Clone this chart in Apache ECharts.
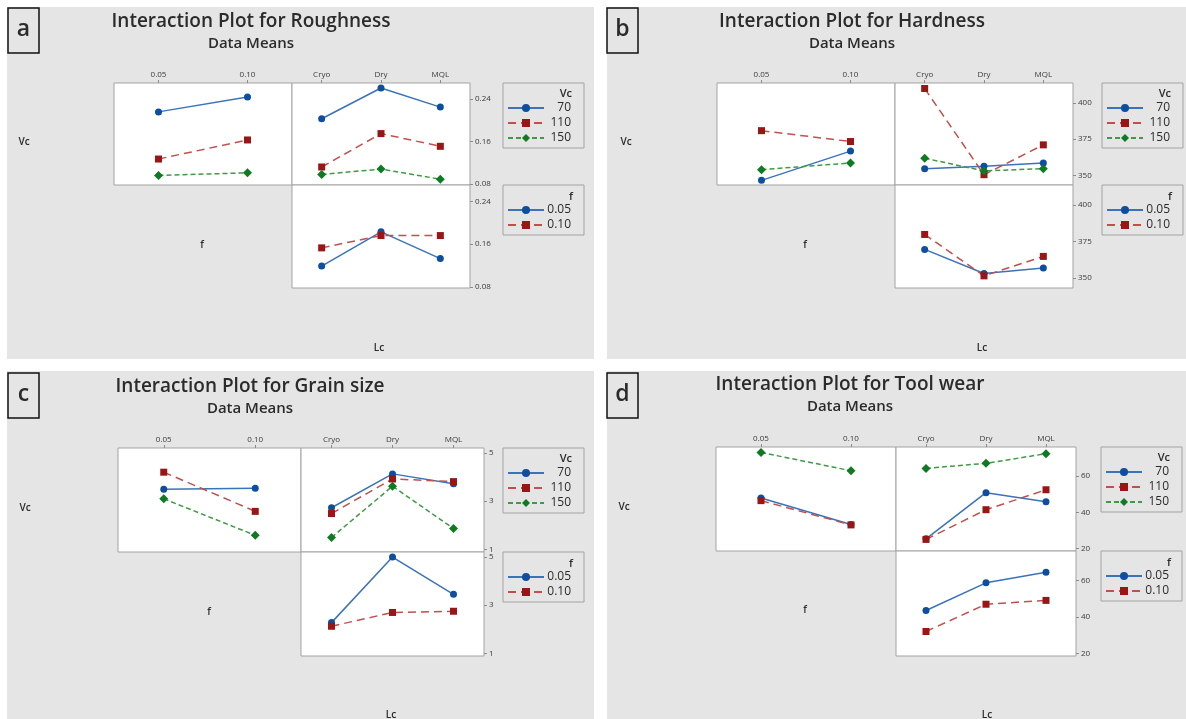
<!DOCTYPE html>
<html>
<head>
<meta charset="utf-8">
<style>
  html, body { margin: 0; padding: 0; background: #fff; }
  #chart { width: 1186px; height: 719px; }
</style>
</head>
<body>
<div id="chart"></div>
<script src="https://cdn.jsdelivr.net/npm/echarts@6.0.0/dist/echarts.min.js"></script>
<script>
// factor levels
var vcLevels = ['70', '110', '150'];
var fLevels = ['0.05', '0.10'];
var lcLevels = ['Cryo', 'Dry', 'MQL'];

// (a) Roughness - data means, one row per level
var roughVcF = [[0.216, 0.244], [0.127, 0.163], [0.096, 0.101]];
var roughVcLc = [[0.203, 0.261, 0.225], [0.112, 0.175, 0.151], [0.098, 0.108, 0.089]];
var roughFLc = [[0.119, 0.183, 0.133], [0.153, 0.176, 0.176]];
var roughTicks = [0.08, 0.16, 0.24];

// (b) Hardness
var hardVcF = [[346.5, 366.7], [380.8, 373.3], [353.9, 358.5]];
var hardVcLc = [[354.6, 356.2, 358.5], [409.9, 350.4, 371.0], [361.8, 353.0, 354.6]];
var hardFLc = [[369.7, 353.2, 356.9], [379.9, 351.6, 364.9]];
var hardTicks = [350, 375, 400];

// (c) Grain size
var grainVcF = [[3.49, 3.54], [4.20, 2.58], [3.10, 1.59]];
var grainVcLc = [[2.73, 4.13, 3.72], [2.49, 3.92, 3.81], [1.50, 3.62, 1.87]];
var grainFLc = [[2.28, 4.99, 3.45], [2.13, 2.70, 2.75]];
var grainTicks = [1, 3, 5];

// (d) Tool wear
var wearVcF = [[47.9, 33.2], [46.4, 33.0], [73.0, 62.9]];
var wearVcLc = [[25.3, 50.8, 45.8], [25.0, 41.4, 52.4], [64.2, 67.0, 72.3]];
var wearFLc = [[43.5, 58.6, 64.4], [32.0, 46.9, 49.0]];
var wearTicks = [20, 40, 60];

var FONT = '"Open Sans", "DejaVu Sans", sans-serif';
var GRID_LINE = '#a3a3a3';
var TEXT = '#2b2b2b';

// line + marker look per level (Minitab style)
var vcStyles = [
  { line: '#3a73b8', mark: '#0d4f9e', dash: 'solid', symbol: 'circle', size: 7 },
  { line: '#c0504d', mark: '#9a1515', dash: [8, 5], symbol: 'rect', size: 7 },
  { line: '#3f9a45', mark: '#0e7a22', dash: [5, 3], symbol: 'diamond', size: 9 }
];
var fStyles = [vcStyles[0], vcStyles[1]];

var panels = [
  { tag: 'a', title: 'Interaction Plot for Roughness', vcF: roughVcF, vcLc: roughVcLc, fLc: roughFLc,
    ticks: roughTicks, yMin: 0.078, yMax: 0.2705, dec: 2,
    bg: [7, 7, 587, 352], tagBox: [8, 8], titleAt: [251, 22, 44],
    box: [114, 83, 178, 102, 103], leg: [503, 83, 185],
    rows: [[24, 142], [202, 245], [379, 348]] },
  { tag: 'b', title: 'Interaction Plot for Hardness', vcF: hardVcF, vcLc: hardVcLc, fLc: hardFLc,
    ticks: hardTicks, yMin: 343.3, yMax: 413.7, dec: 0,
    bg: [607, 7, 579, 352], tagBox: [607, 8], titleAt: [852, 22, 44],
    box: [717, 83, 178, 102, 103], leg: [1102, 83, 185],
    rows: [[626, 142], [805, 245], [982, 348]] },
  { tag: 'c', title: 'Interaction Plot for Grain size', vcF: grainVcF, vcLc: grainVcLc, fLc: grainFLc,
    ticks: grainTicks, yMin: 0.9, yMax: 5.2, dec: 0,
    bg: [7, 371, 587, 348], tagBox: [8, 373], titleAt: [250, 387, 409],
    box: [118, 448, 183, 104, 104], leg: [503, 448, 552],
    rows: [[25, 508], [209, 612], [391, 715]] },
  { tag: 'd', title: 'Interaction Plot for Tool wear', vcF: wearVcF, vcLc: wearVcLc, fLc: wearFLc,
    ticks: wearTicks, yMin: 18.6, yMax: 76, dec: 0,
    bg: [607, 371, 579, 348], tagBox: [607, 373], titleAt: [850, 385, 407],
    box: [716, 447, 180, 104, 105], leg: [1101, 447, 551],
    rows: [[624, 507], [805, 610], [987, 715]] }
];

var option = {
  animation: false,
  textStyle: { fontFamily: FONT },
  grid: [], xAxis: [], yAxis: [], series: [], legend: [], graphic: []
};

function catAxis(levels, gi, labels) {
  return {
    type: 'category', gridIndex: gi, data: levels, position: 'top', boundaryGap: true,
    axisLine: { show: false },
    axisTick: { show: labels, alignWithLabel: true, length: 3, lineStyle: { color: '#8c8c8c' } },
    axisLabel: { show: labels, fontSize: 8, color: '#3a3a3a', margin: 4 },
    splitLine: { show: false }
  };
}

function valAxis(p, gi, labels) {
  return {
    type: 'value', gridIndex: gi, position: 'right', min: p.yMin, max: p.yMax,
    axisLine: { show: false },
    axisTick: { show: labels, customValues: p.ticks, length: 3, lineStyle: { color: '#8c8c8c' } },
    axisLabel: {
      show: labels, customValues: p.ticks, fontSize: 8, color: '#3a3a3a', margin: 5,
      formatter: function (v) { return Number(v).toFixed(p.dec); }
    },
    splitLine: { show: false }
  };
}

function lineSeries(name, st, data, gi) {
  return {
    type: 'line', name: name, xAxisIndex: gi, yAxisIndex: gi, data: data,
    symbol: st.symbol, symbolSize: st.size, showSymbol: true, silent: true,
    lineStyle: { color: st.line, width: 1.5, type: st.dash },
    itemStyle: { color: st.mark },
    emphasis: { disabled: true }
  };
}

function legendBox(names, left, top) {
  return {
    data: names, orient: 'vertical', left: left, top: top,
    padding: [19, 13, 4, 4], itemWidth: 36, itemHeight: 10, itemGap: 3,
    borderColor: GRID_LINE, borderWidth: 1, selectedMode: false,
    formatter: '{r|{name}}',
    textStyle: { color: TEXT, fontSize: 12, rich: { r: { width: 22, align: 'right', fontSize: 12, lineHeight: 15, color: TEXT } } }
  };
}

function text(str, x, y, font, align) {
  return {
    type: 'text', x: x, y: y, silent: true,
    style: { text: str, font: font, fill: TEXT, textAlign: align || 'center', textVerticalAlign: 'middle' }
  };
}

panels.forEach(function (p) {
  var g0 = option.grid.length;
  var L = p.box[0], T = p.box[1], W = p.box[2], H1 = p.box[3], H2 = p.box[4];
  [[L, T, W, H1], [L + W, T, W, H1], [L + W, T + H1, W, H2]].forEach(function (r) {
    option.grid.push({
      left: r[0], top: r[1], width: r[2], height: r[3], show: true,
      backgroundColor: '#fff', borderColor: GRID_LINE, borderWidth: 1,
      containLabel: false, outerBoundsMode: 'none'
    });
  });

  option.xAxis.push(catAxis(fLevels, g0, true), catAxis(lcLevels, g0 + 1, true), catAxis(lcLevels, g0 + 2, false));
  option.yAxis.push(valAxis(p, g0, false), valAxis(p, g0 + 1, true), valAxis(p, g0 + 2, true));

  vcLevels.forEach(function (name, i) {
    option.series.push(lineSeries(name, vcStyles[i], p.vcF[i], g0));
  });
  vcLevels.forEach(function (name, i) {
    option.series.push(lineSeries(name, vcStyles[i], p.vcLc[i], g0 + 1));
  });
  fLevels.forEach(function (name, i) {
    option.series.push(lineSeries(name, fStyles[i], p.fLc[i], g0 + 2));
  });

  option.legend.push(legendBox(vcLevels, p.leg[0], p.leg[1]));
  option.legend.push(legendBox(fLevels, p.leg[0], p.leg[2]));

  // panel background, tag box, titles, factor names
  option.graphic.push({
    type: 'rect', z: -10, silent: true,
    shape: { x: p.bg[0], y: p.bg[1], width: p.bg[2], height: p.bg[3] },
    style: { fill: '#e5e5e5' }
  });
  option.graphic.push({
    type: 'rect', silent: true,
    shape: { x: p.tagBox[0], y: p.tagBox[1], width: 31, height: 45 },
    style: { fill: 'none', stroke: '#111', lineWidth: 1.5 }
  });
  option.graphic.push(text(p.tag, p.tagBox[0] + 15.5, p.tagBox[1] + 21, '600 23px ' + FONT));
  option.graphic.push(text(p.title, p.titleAt[0], p.titleAt[1], '600 19px ' + FONT));
  option.graphic.push(text('Data Means', p.titleAt[0], p.titleAt[2], '600 15px ' + FONT));
  option.graphic.push(text('Vc', p.rows[0][0], p.rows[0][1], '600 10px ' + FONT));
  option.graphic.push(text('f', p.rows[1][0], p.rows[1][1], '600 10px ' + FONT));
  option.graphic.push(text('Lc', p.rows[2][0], p.rows[2][1], '600 10px ' + FONT));
  option.graphic.push(text('Vc', p.leg[0] + 69, p.leg[1] + 11, '600 11px ' + FONT, 'right'));
  option.graphic.push(text('f', p.leg[0] + 70, p.leg[2] + 12, '600 11px ' + FONT, 'right'));
});

var chart = echarts.init(document.getElementById('chart'), null, { renderer: 'canvas' });
chart.setOption(option);
window.addEventListener('resize', chart.resize);
</script>
</body>
</html>
